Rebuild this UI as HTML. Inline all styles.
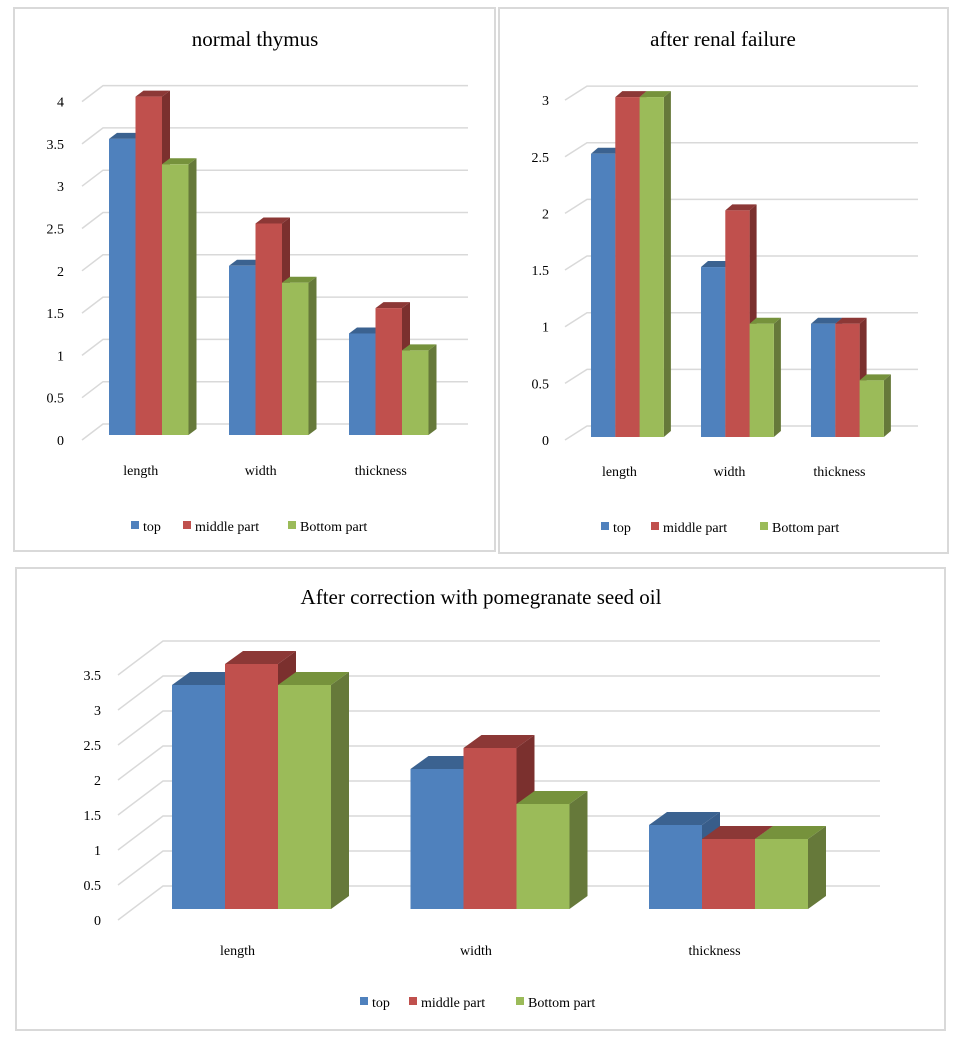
<!DOCTYPE html>
<html><head><meta charset="utf-8"><style>
body{margin:0;background:#fff;width:963px;height:1043px;overflow:hidden}
svg{position:absolute;left:0;top:0}
text{font-family:"Liberation Serif",serif;fill:#000}
</style></head><body>
<svg id="s" width="963" height="1043">
<rect x="14" y="8" width="481" height="543" fill="none" stroke="#d9d9d9" stroke-width="2"/>
<rect x="499" y="8" width="449" height="545" fill="none" stroke="#d9d9d9" stroke-width="2"/>
<rect x="16" y="568" width="929" height="462" fill="none" stroke="#d9d9d9" stroke-width="2"/>
</svg>
<script>
const categories=["length","width","thickness"];
const seriesNames=["top","middle part","Bottom part"];
const c1Top=[3.5,2,1.2], c1Mid=[4,2.5,1.5], c1Bot=[3.2,1.8,1.0];
const c1Ticks=["0","0.5","1","1.5","2","2.5","3","3.5","4"];
const c2Top=[2.5,1.5,1], c2Mid=[3,2,1], c2Bot=[3,1,0.5];
const c2Ticks=["0","0.5","1","1.5","2","2.5","3"];
const c3Top=[3.2,2,1.2], c3Mid=[3.5,2.3,1.0], c3Bot=[3.2,1.5,1.0];
const c3Ticks=["0","0.5","1","1.5","2","2.5","3","3.5"];
const cols=[["#4f81bd","#3b6290","#385d8a"],["#c0504d","#8c3836","#7b302e"],["#9bbb59","#76923c","#66793a"]];
const S=document.getElementById('s');
function mk(t,a,p){const e=document.createElementNS('http://www.w3.org/2000/svg',t);for(const k in a)e.setAttribute(k,a[k]);(p||S).appendChild(e);return e;}
function chart(o){
  const g=mk('g',{});
  
  
  const t=mk('text',{x:o.tx,y:o.ty,'text-anchor':'middle','font-size':21},g);t.textContent=o.title;
  
  
  const fy=v=>o.front0-o.unit*v;
  o.ticks.forEach((lab,i)=>{
    const v=parseFloat(lab),y=fy(v);
    const l=mk('polyline',{points:`${o.fx},${y} ${o.bx},${y-o.gdy} ${o.gx2},${y-o.gdy}`,fill:'none',stroke:'#d9d9d9','stroke-width':1.5},g);
    
    
    const tx=mk('text',{x:o.lx,y:y+5,'text-anchor':'end','font-size':14},g);tx.textContent=lab;
    
    
  });
  const data=[o.d0,o.d1,o.d2];
  categories.forEach((c,ci)=>{
    for(let si=0;si<3;si++){
      const v=data[si][ci],x=o.x0+ci*o.gap+si*o.bw,y=o.base-o.unit*v,w=o.bw,dx=o.ddx,dy=o.ddy;
      const b=mk('g',{},g);
      
      
      mk('polygon',{points:`${x+w},${y} ${x+w+dx},${y-dy} ${x+w+dx},${o.base-dy} ${x+w},${o.base}`,fill:cols[si][2]},b);
      mk('polygon',{points:`${x},${y} ${x+dx},${y-dy} ${x+w+dx},${y-dy} ${x+w},${y}`,fill:cols[si][1]},b);
      mk('rect',{x:x,y:y,width:w,height:o.base-y,fill:cols[si][0]},b);
    }
    const tl=mk('text',{x:o.x0+ci*o.gap+1.5*o.bw+o.coff,y:o.cy,'text-anchor':'middle','font-size':14},g);tl.textContent=c;
    
    
  });
  seriesNames.forEach((n,i)=>{
    const r=mk('rect',{x:o.leg[i],y:o.ly-10,width:8,height:8,fill:cols[i][0]},g);
    
    
    const lt=mk('text',{x:o.leg[i]+12,y:o.ly,'font-size':14},g);lt.textContent=n;
    
    
  });
}
chart({name:'chart-normal-thymus',title:'normal thymus',tx:255,ty:46,d0:c1Top,d1:c1Mid,d2:c1Bot,ticks:c1Ticks,
 front0:440,unit:84.6,fx:82,bx:103,gdy:16,gx2:468,lx:64,base:435,x0:109,gap:120,bw:26.5,ddx:8,ddy:6,cy:475,coff:-8,ly:531,leg:[131,183,288]});
chart({name:'chart-renal-failure',title:'after renal failure',tx:723,ty:46,d0:c2Top,d1:c2Mid,d2:c2Bot,ticks:c2Ticks,
 front0:440,unit:113.3,fx:565,bx:587,gdy:14,gx2:918,lx:549,base:437,x0:591,gap:110,bw:24.3,ddx:7,ddy:6,cy:476,coff:-8,ly:532,leg:[601,651,760]});
chart({name:'chart-correction',title:'After correction with pomegranate seed oil',tx:481,ty:604,d0:c3Top,d1:c3Mid,d2:c3Bot,ticks:c3Ticks,
 front0:920,unit:70,fx:118,bx:163,gdy:34,gx2:880,lx:101,base:909,x0:172,gap:238.5,bw:53,ddx:18,ddy:13,cy:955,coff:-14,ly:1007,leg:[360,409,516]});
</script>
</body></html>
